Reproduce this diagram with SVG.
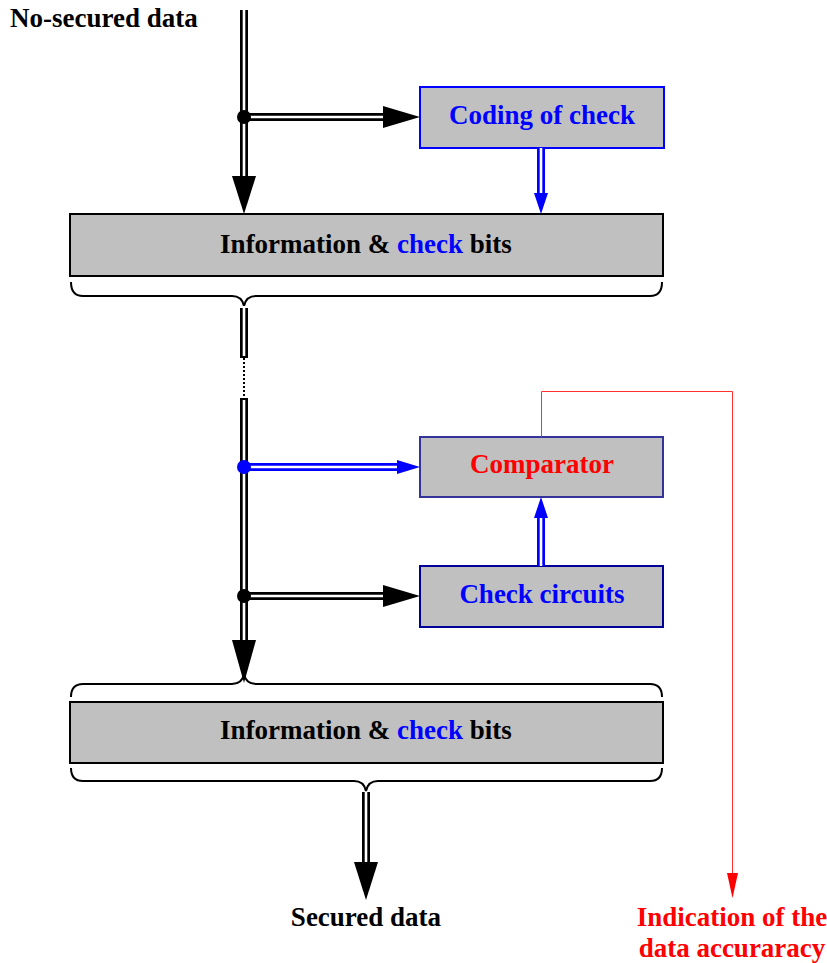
<svg xmlns="http://www.w3.org/2000/svg" width="827" height="963" viewBox="0 0 827 963">
  <style>
    .t { font-family: "Liberation Serif", "Times New Roman", serif; font-weight: bold; font-size: 27px; }
    .box { fill: #c0c0c0; }
    .dbl-o { fill: none; stroke: #000; stroke-width: 8; }
    .dbl-i { fill: none; stroke: #fff; stroke-width: 2.6; }
    .dblb-o { fill: none; stroke: #0000ff; stroke-width: 8; }
    .brace { fill: none; stroke: #000; stroke-width: 2; }
  </style>
  <rect width="827" height="963" fill="#fff"/>

  <!-- Nodes -->
  <g id="coding">
    <rect class="box" x="420" y="87" width="244" height="61" stroke="#0000ff" stroke-width="2"/>
    <text class="t" x="542" y="124" text-anchor="middle" fill="#0000ff">Coding of check</text>
  </g>
  <g id="info1">
    <rect class="box" x="70" y="214" width="593" height="62" stroke="#000" stroke-width="2"/>
    <text class="t" x="366" y="253" text-anchor="middle" fill="#000">Information &amp; <tspan fill="#0000ff">check</tspan> bits</text>
  </g>
  <g id="comparator">
    <rect class="box" x="420" y="437" width="243" height="60" stroke="#333399" stroke-width="2"/>
    <text class="t" x="542" y="473" text-anchor="middle" fill="#ff0000">Comparator</text>
  </g>
  <g id="check-circuits">
    <rect class="box" x="420" y="566" width="243" height="61" stroke="#000099" stroke-width="2"/>
    <text class="t" x="542" y="603" text-anchor="middle" fill="#0000ff">Check circuits</text>
  </g>
  <g id="info2">
    <rect class="box" x="70" y="702" width="593" height="61" stroke="#000" stroke-width="2"/>
    <text class="t" x="366" y="739" text-anchor="middle" fill="#000">Information &amp; <tspan fill="#0000ff">check</tspan> bits</text>
  </g>
  <g id="labels">
    <text class="t" x="10" y="27" fill="#000">No-secured data</text>
    <text class="t" x="366" y="926" text-anchor="middle" fill="#000">Secured data</text>
    <text class="t" x="732" y="926" text-anchor="middle" fill="#ff0000">Indication of the</text>
    <text class="t" x="732" y="957" text-anchor="middle" fill="#ff0000">data accuraracy</text>
  </g>

  <!-- Braces -->
  <g id="braces">
    <path class="brace" d="M71,282 Q71,296 83,296 L232,296 Q242,296 244,306 Q246,296 256,296 L650,296 Q662,296 662,282"/>
    <path class="brace" d="M71,697 Q71,684 83,684 L232,684 Q242,684 244,674 Q246,684 256,684 L650,684 Q662,684 662,697"/>
    <path class="brace" d="M71,768 Q71,781 83,781 L354,781 Q364,781 366,791 Q368,781 378,781 L650,781 Q662,781 662,768"/>
  </g>

  <!-- Connectors -->
  <g id="connectors">
    <!-- main input trunk -->
    <path class="dbl-o" d="M244,10 V180"/>
    <path class="dbl-i" d="M244,10 V180"/>
    <polygon points="232,176 256,176 244,214" fill="#000"/>
    <!-- branch to coding -->
    <path class="dbl-o" d="M244,117 H386"/>
    <path class="dbl-i" d="M244,117 H386"/>
    <polygon points="383,106 383,128 420,117" fill="#000"/>
    <circle cx="244" cy="117" r="7" fill="#000"/>
    <!-- coding to info1 -->
    <path class="dblb-o" d="M541,148 V196"/>
    <path class="dbl-i" d="M541,148 V196"/>
    <polygon points="534,193 548,193 541,214" fill="#0000ff"/>

    <!-- channel with gap -->
    <path class="dbl-o" d="M244,308 V358"/>
    <path class="dbl-i" d="M244,306 V356"/>
    <line x1="244" y1="358" x2="244" y2="398" stroke="#000" stroke-width="2" stroke-dasharray="2,2"/>
    <path class="dbl-o" d="M244,398 V645"/>
    <path class="dbl-i" d="M244,400 V645"/>
    <polygon points="232,640 256,640 244,683" fill="#000"/>

    <!-- branch to comparator -->
    <path class="dblb-o" d="M244,467 H400"/>
    <path class="dbl-i" d="M244,467 H400"/>
    <polygon points="397,460 397,474 420,467" fill="#0000ff"/>
    <circle cx="244" cy="467" r="7" fill="#0000ff"/>

    <!-- branch to check circuits -->
    <path class="dbl-o" d="M244,596 H386"/>
    <path class="dbl-i" d="M244,596 H386"/>
    <polygon points="383,585 383,607 420,596" fill="#000"/>
    <circle cx="244" cy="596" r="7" fill="#000"/>

    <!-- check circuits to comparator -->
    <path class="dblb-o" d="M541,566 V515"/>
    <path class="dbl-i" d="M541,566 V515"/>
    <polygon points="534,518 548,518 541,497" fill="#0000ff"/>

    <!-- comparator to indication -->
    <path d="M541.5,437 V391.5 H732.5 V876" fill="none" stroke="#ff3030" stroke-width="1"/>
    <polygon points="727,873 738,873 732.5,898" fill="#ff0000"/>

    <!-- output -->
    <path class="dbl-o" d="M366,792 V866"/>
    <path class="dbl-i" d="M366,792 V866"/>
    <polygon points="354,862 378,862 366,900" fill="#000"/>
  </g>
</svg>
